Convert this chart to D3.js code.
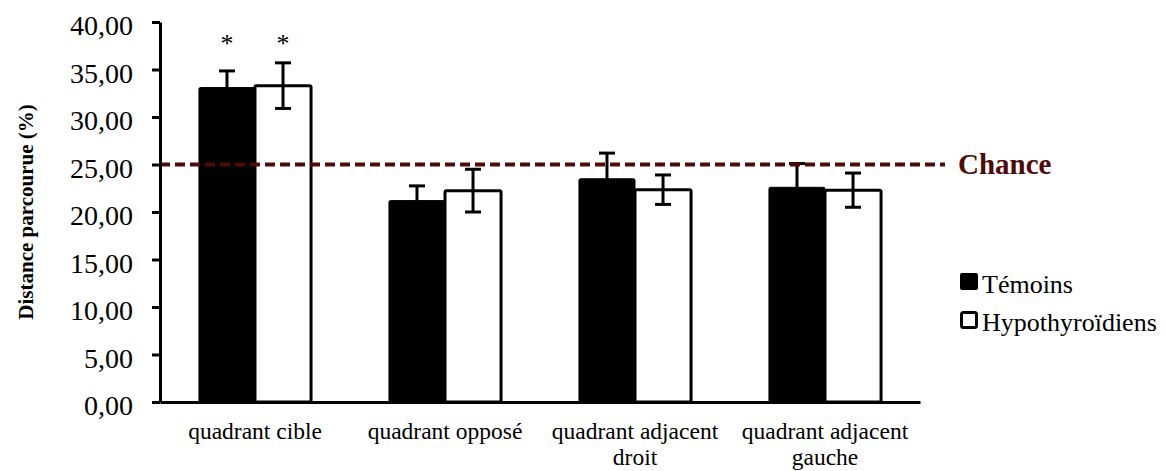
<!DOCTYPE html>
<html>
<head>
<meta charset="utf-8">
<script src="https://cdn.jsdelivr.net/npm/d3@7"></script>
<style>
  html, body { margin: 0; padding: 0; background: #fff; }
  svg { display: block; }
  text { font-family: "Liberation Serif", "Times New Roman", serif; }
</style>
</head>
<body>
<svg id="chart" width="1166" height="471"></svg>
<script>
// ---- Data ----
const categories = ["quadrant cible", "quadrant opposé", "quadrant adjacent droit", "quadrant adjacent gauche"];
const seriesNames = ["Témoins", "Hypothyroïdiens"];
const temoins = [33.1, 21.2, 23.5, 22.6];
const temoinsErr = [1.75, 1.55, 2.7, 2.5];
const hypo = [33.3, 22.25, 22.35, 22.3];
const hypoErr = [2.4, 2.25, 1.55, 1.8];
const chanceValue = 25;
const chanceLabel = "Chance";
const yTicks = [0, 5, 10, 15, 20, 25, 30, 35, 40];
const significant = [[true, true], [false, false], [false, false], [false, false]];
const yTitle = "Distance parcourue (%)";

// ---- Layout ----
const svg = d3.select("#chart");
const mLeft = 160, mRight = 920, mTop = 22, mBottom = 402;
const darkRed = "#4f0a0a";

const y = d3.scaleLinear().domain([0, 40]).range([mBottom, mTop]);
const x0 = d3.scaleBand().domain(categories).range([mLeft, mRight]).paddingInner(0.41).paddingOuter(0.205);
const x1 = d3.scaleBand().domain(seriesNames).range([0, x0.bandwidth()]);

const locale = d3.formatLocale({decimal: ",", thousands: " ", grouping: [3], currency: ["", "€"]});
const fmt = locale.format(".2f");

const rows = categories.map((c, i) => ({
  cat: c,
  vals: [
    {s: seriesNames[0], v: temoins[i], e: temoinsErr[i], sig: significant[i][0]},
    {s: seriesNames[1], v: hypo[i], e: hypoErr[i], sig: significant[i][1]}
  ]
}));

// Bars
const g = svg.append("g");
const groups = g.selectAll("g.grp").data(rows).join("g")
  .attr("transform", d => `translate(${x0(d.cat)},0)`);

groups.selectAll("rect").data(d => d.vals).join("rect")
  .attr("x", d => x1(d.s))
  .attr("y", d => y(d.v))
  .attr("width", x1.bandwidth())
  .attr("height", d => y(0) - y(d.v))
  .attr("rx", 1.5)
  .attr("fill", d => d.s === seriesNames[0] ? "#000" : "#fff")
  .attr("stroke", "#000")
  .attr("stroke-width", d => d.s === seriesNames[0] ? 1 : 3);

// Error bars
const eb = groups.selectAll("g.err").data(d => d.vals).join("g")
  .attr("transform", d => `translate(${x1(d.s) + x1.bandwidth() / 2},0)`);
eb.append("line").attr("x1", 0).attr("x2", 0)
  .attr("y1", d => y(d.v - d.e)).attr("y2", d => y(d.v + d.e))
  .attr("stroke", "#000").attr("stroke-width", 3);
eb.append("line").attr("x1", -8).attr("x2", 8)
  .attr("y1", d => y(d.v + d.e)).attr("y2", d => y(d.v + d.e))
  .attr("stroke", "#000").attr("stroke-width", 3);
eb.append("line").attr("x1", -8).attr("x2", 8)
  .attr("y1", d => y(d.v - d.e)).attr("y2", d => y(d.v - d.e))
  .attr("stroke", "#000").attr("stroke-width", 3);

// Significance stars
eb.filter(d => d.sig).append("text")
  .attr("x", 0).attr("y", 52)
  .attr("text-anchor", "middle")
  .attr("font-size", 26)
  .text("*");

// Chance line
svg.append("line")
  .attr("x1", mLeft).attr("x2", 945)
  .attr("y1", y(chanceValue)).attr("y2", y(chanceValue))
  .attr("stroke", darkRed).attr("stroke-width", 4)
  .attr("stroke-dasharray", "10,5");
svg.append("text")
  .attr("x", 958).attr("y", y(chanceValue) + 9)
  .attr("font-size", 29).attr("font-weight", "bold")
  .attr("fill", darkRed)
  .text(chanceLabel);

// Y axis
const yAxis = svg.append("g").attr("transform", `translate(${mLeft},0)`)
  .call(d3.axisLeft(y).tickValues(yTicks).tickFormat(fmt).tickSize(8).tickSizeOuter(0).tickPadding(19));
yAxis.select(".domain").attr("stroke", "#000").attr("stroke-width", 3);
yAxis.selectAll(".tick line").attr("stroke", "#000").attr("stroke-width", 3);
yAxis.selectAll(".tick text")
  .attr("font-family", "'Liberation Serif', 'Times New Roman', serif")
  .attr("font-size", 28).attr("fill", "#000").attr("dy", "0.45em");

// X axis
const xAxis = svg.append("g").attr("transform", `translate(0,${mBottom})`)
  .call(d3.axisBottom(x0).tickSize(0).tickSizeOuter(0).tickPadding(36));
xAxis.select(".domain").attr("stroke", "#000").attr("stroke-width", 3);
xAxis.selectAll(".tick text")
  .attr("font-family", "'Liberation Serif', 'Times New Roman', serif")
  .attr("font-size", 23.5).attr("fill", "#000")
  .each(function(d) {
    const t = d3.select(this);
    const words = d.split(" ");
    const maxW = 185;
    t.text(null);
    let lines = [];
    let cur = [];
    const probe = t.append("tspan");
    words.forEach(w => {
      const test = cur.concat([w]).join(" ");
      probe.text(test);
      if (probe.node().getComputedTextLength() > maxW && cur.length) {
        lines.push(cur.join(" "));
        cur = [w];
      } else cur.push(w);
    });
    lines.push(cur.join(" "));
    probe.remove();
    t.attr("y", 0).attr("dy", null);
    lines.forEach((ln, i) => {
      t.append("tspan").attr("x", 0).attr("y", 37 + i * 25.5).text(ln);
    });
  });

// Y title
svg.append("text")
  .attr("transform", `translate(33,${(mTop + mBottom) / 2}) rotate(-90)`)
  .attr("text-anchor", "middle")
  .attr("font-size", 21).attr("font-weight", "bold")
  .text(yTitle);

// Legend
const legend = svg.append("g");
seriesNames.forEach((s, i) => {
  const ly = 282 + i * 38;
  legend.append("rect")
    .attr("x", i === 0 ? 960 : 961.5).attr("y", i === 0 ? ly - 9 : ly - 7.5)
    .attr("width", i === 0 ? 18 : 15).attr("height", i === 0 ? 17 : 15)
    .attr("rx", 2)
    .attr("fill", i === 0 ? "#000" : "#fff")
    .attr("stroke", "#000").attr("stroke-width", i === 0 ? 0 : 3);
  legend.append("text")
    .attr("x", 982).attr("y", ly + 11)
    .attr("font-size", 26)
    .text(s);
});
</script>
</body>
</html>
